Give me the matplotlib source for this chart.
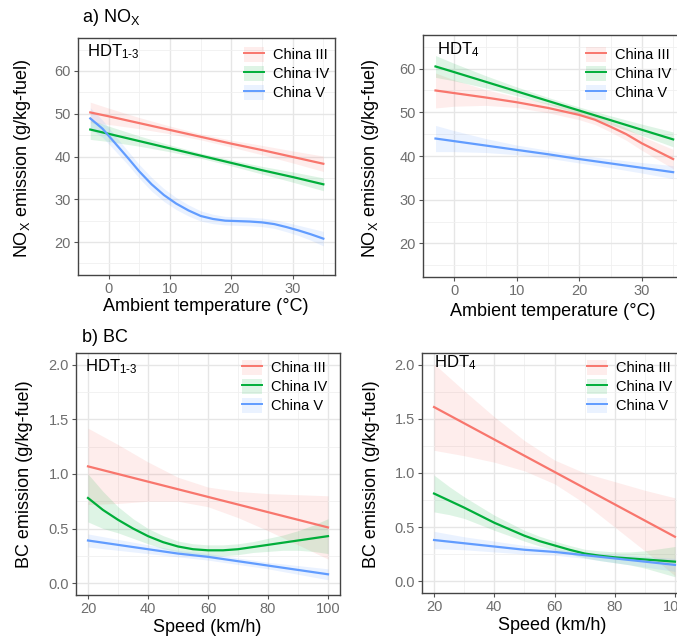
import matplotlib
matplotlib.use("Agg")
import matplotlib.pyplot as plt
from matplotlib.lines import Line2D
from matplotlib.patches import Patch

plt.rcParams["font.family"] = ["Liberation Sans", "DejaVu Sans"]
plt.rcParams["mathtext.fontset"] = "custom"
plt.rcParams["mathtext.rm"] = "Liberation Sans"
plt.rcParams["mathtext.it"] = "Liberation Sans"

# ── 数据: 从图中读取 ──
stages = ["China III", "China IV", "China V"]
colors = ["#F8766D", "#00AE3A", "#619CFF"]

# a) NOx vs 温度
temp_x = [-3, 0, 5, 10, 15, 20, 25, 30, 35]
temp_x_fine = [-3, -1, 1, 3, 5, 7, 9, 11, 13, 15, 17, 19, 21, 23, 25, 27, 29, 31, 33, 35]
temp_x_mid = [-3, 0, 5, 10, 15, 20, 22.5, 25, 27.5, 30, 32.5, 35]

nox13_c3 = [50.3, 49.4, 47.8, 46.2, 44.6, 43.0, 41.5, 39.9, 38.3]
nox13_c3_hw = [2.4, 1.9, 1.3, 0.9, 0.7, 0.8, 1.1, 1.4, 1.8]
nox13_c4 = [46.3, 45.3, 43.6, 41.9, 40.2, 38.5, 36.8, 35.2, 33.5]
nox13_c4_hw = [2.3, 1.8, 1.2, 0.8, 0.6, 0.7, 0.9, 1.2, 1.5]
nox13_c5 = [48.9, 46.5, 43.2, 39.9, 36.5, 33.5, 31.0, 29.0, 27.4, 26.1,
            25.4, 25.0, 24.9, 24.8, 24.6, 24.2, 23.5, 22.7, 21.8, 20.8]
nox13_c5_hw = [2.5, 2.0, 1.8, 1.6, 1.6, 1.6, 1.5, 1.4, 1.3, 1.2,
               1.1, 1.0, 1.0, 1.0, 1.0, 1.0, 1.1, 1.2, 1.4, 1.7]

nox4_c3 = [55.0, 54.4, 53.4, 52.3, 51.0, 49.4, 48.3, 46.7, 45.0, 42.9, 41.1, 39.3]
nox4_c3_hw = [4.0, 3.0, 1.8, 1.2, 1.1, 1.1, 1.1, 1.2, 1.4, 1.6, 1.9, 2.2]
nox4_c4 = [60.5, 59.2, 57.0, 54.8, 52.6, 50.4, 48.2, 46.0, 43.8]
nox4_c4_hw = [2.5, 2.0, 1.4, 1.0, 0.8, 0.8, 1.0, 1.3, 1.7]
nox4_c5 = [44.0, 43.4, 42.4, 41.4, 40.4, 39.3, 38.3, 37.3, 36.3]
nox4_c5_hw = [3.0, 2.4, 1.6, 1.1, 0.9, 0.9, 1.0, 1.2, 1.5]

# b) BC vs 速度
speed_x = [20, 30, 40, 50, 60, 70, 80, 90, 100]
speed_x_fine = [20, 25, 30, 35, 40, 45, 50, 55, 60, 65, 70, 75, 80, 85, 90, 95, 100]

bc13_c3 = [1.07, 1.00, 0.93, 0.86, 0.79, 0.72, 0.65, 0.58, 0.51]
bc13_c3_hw = [0.35, 0.27, 0.18, 0.11, 0.09, 0.12, 0.17, 0.23, 0.29]
bc13_c4 = [0.78, 0.67, 0.58, 0.50, 0.43, 0.375, 0.335, 0.31, 0.30,
           0.30, 0.31, 0.33, 0.35, 0.37, 0.39, 0.41, 0.43]
bc13_c4_hw = [0.22, 0.17, 0.12, 0.09, 0.07, 0.06, 0.05, 0.05, 0.05,
              0.05, 0.05, 0.05, 0.06, 0.07, 0.09, 0.12, 0.16]
bc13_c5 = [0.39, 0.35, 0.31, 0.27, 0.24, 0.20, 0.16, 0.12, 0.08]
bc13_c5_hw = [0.06, 0.05, 0.04, 0.03, 0.03, 0.03, 0.03, 0.04, 0.05]

bc4_c3 = [1.61, 1.46, 1.31, 1.16, 1.01, 0.86, 0.71, 0.56, 0.41]
bc4_c3_hw = [0.40, 0.30, 0.21, 0.14, 0.11, 0.14, 0.21, 0.28, 0.36]
bc4_c4 = [0.81, 0.745, 0.68, 0.61, 0.54, 0.48, 0.42, 0.37, 0.33,
          0.29, 0.255, 0.235, 0.22, 0.21, 0.20, 0.19, 0.18]
bc4_c4_hw = [0.17, 0.13, 0.10, 0.085, 0.07, 0.06, 0.05, 0.045, 0.04,
             0.04, 0.04, 0.045, 0.05, 0.06, 0.08, 0.11, 0.14]
bc4_c5 = [0.38, 0.35, 0.32, 0.29, 0.27, 0.24, 0.21, 0.18, 0.15]
bc4_c5_hw = [0.08, 0.06, 0.05, 0.04, 0.03, 0.03, 0.04, 0.05, 0.06]

W, H = 677, 636
fig = plt.figure(figsize=(W / 100, H / 100), dpi=100)


def px_axes(left, top, width, height):
    return fig.add_axes([left / W, 1 - (top + height) / H, width / W, height / H])


def style_axes(ax, xlim, ylim, xmaj, xmin, ymaj, ymin, yfmt):
    ax.set_xlim(*xlim)
    ax.set_ylim(*ylim)
    ax.set_xticks(xmaj)
    ax.set_xticks(xmin, minor=True)
    ax.set_yticks(ymaj)
    ax.set_yticks(ymin, minor=True)
    ax.set_yticklabels([yfmt.format(v) for v in ymaj])
    ax.grid(True, which="major", color="#E6E6E6", linewidth=1.0)
    ax.grid(True, which="minor", color="#F0F0F0", linewidth=0.6)
    ax.set_axisbelow(True)
    ax.tick_params(which="major", length=3, width=0.8, color="#555555",
                   labelcolor="#6E6E6E", labelsize=10.5, pad=2)
    ax.tick_params(which="minor", length=0)
    for sp in ax.spines.values():
        sp.set_color("#444444")
        sp.set_linewidth(1.0)


def draw_series(ax, xs_list, ys_list, hw_list):
    for xs, ys, hw, c in zip(xs_list, ys_list, hw_list, colors):
        lo = [y - h for y, h in zip(ys, hw)]
        hi = [y + h for y, h in zip(ys, hw)]
        ax.fill_between(xs, lo, hi, color=c, alpha=0.13, linewidth=0)
    for xs, ys, c in zip(xs_list, ys_list, colors):
        ax.plot(xs, ys, color=c, linewidth=1.6, solid_joinstyle="round")


def add_legend(ax, fx, fy):
    handles = [(Patch(facecolor=c, alpha=0.13, edgecolor="none"),
                Line2D([], [], color=c, linewidth=1.4)) for c in colors]
    ax.legend(handles, stages, loc="upper left", bbox_to_anchor=(fx / W, 1 - fy / H),
              bbox_transform=fig.transFigure, frameon=False, fontsize=10.5,
              handlelength=1.4, handleheight=1.2, handletextpad=0.6,
              labelspacing=0.25, borderpad=0, borderaxespad=0)


temp_lim = (-4.9, 36.9)
nox_lim = (12.3, 67.7)
speed_lim = (16, 104)
bc_lim = (-0.11, 2.11)

# ── 面板 ──
ax1 = px_axes(78, 38, 257, 237)
ax2 = px_axes(423, 35, 262, 242)
ax3 = px_axes(76, 353, 264, 242)
ax4 = px_axes(422, 353, 265, 240)

for ax in (ax1, ax2):
    style_axes(ax, temp_lim, nox_lim, [0, 10, 20, 30], [-5, 5, 15, 25, 35],
               [20, 30, 40, 50, 60], [15, 25, 35, 45, 55, 65], "{:.0f}")
for ax in (ax3, ax4):
    style_axes(ax, speed_lim, bc_lim, [20, 40, 60, 80, 100], [30, 50, 70, 90],
               [0, 0.5, 1.0, 1.5, 2.0], [0.25, 0.75, 1.25, 1.75], "{:.1f}")

draw_series(ax1, [temp_x, temp_x, temp_x_fine], [nox13_c3, nox13_c4, nox13_c5],
            [nox13_c3_hw, nox13_c4_hw, nox13_c5_hw])
draw_series(ax2, [temp_x_mid, temp_x, temp_x], [nox4_c3, nox4_c4, nox4_c5],
            [nox4_c3_hw, nox4_c4_hw, nox4_c5_hw])
draw_series(ax3, [speed_x, speed_x_fine, speed_x], [bc13_c3, bc13_c4, bc13_c5],
            [bc13_c3_hw, bc13_c4_hw, bc13_c5_hw])
draw_series(ax4, [speed_x, speed_x_fine, speed_x], [bc4_c3, bc4_c4, bc4_c5],
            [bc4_c3_hw, bc4_c4_hw, bc4_c5_hw])

add_legend(ax1, 244, 47)
add_legend(ax2, 586, 47)
add_legend(ax3, 242, 360)
add_legend(ax4, 587, 360)

# 面板内标签
sub13 = r"HDT$_{\mathregular{1\text{-}3}}$"
sub4 = r"HDT$_{\mathregular{4}}$"
fig.text(87 / W, 1 - 52 / H, sub13, fontsize=12, va="center", ha="left")
fig.text(437 / W, 1 - 50 / H, sub4, fontsize=12, va="center", ha="left")
fig.text(85 / W, 1 - 367 / H, sub13, fontsize=12, va="center", ha="left")
fig.text(434 / W, 1 - 363 / H, sub4, fontsize=12, va="center", ha="left")

# 轴标题
nox_label = r"NO$_{\mathregular{X}}$ emission (g/kg-fuel)"
bc_label = "BC emission (g/kg-fuel)"
for ax, lab, fx, fy in [(ax1, nox_label, 33, 158), (ax2, nox_label, 381, 158),
                        (ax3, bc_label, 33, 474), (ax4, bc_label, 380, 474)]:
    ax.set_ylabel(lab, fontsize=13)
    ax.yaxis.set_label_coords(fx / W, 1 - fy / H, transform=fig.transFigure)

for ax, lab, fx, fy in [(ax1, "Ambient temperature (°C)", 206, 307),
                        (ax2, "Ambient temperature (°C)", 553, 312),
                        (ax3, "Speed (km/h)", 207, 628),
                        (ax4, "Speed (km/h)", 552, 625)]:
    ax.set_xlabel(lab, fontsize=13)
    ax.xaxis.set_label_coords(fx / W, 1 - fy / H, transform=fig.transFigure)
    ax.xaxis.label.set_va("center")

fig.text(82 / W, 1 - 18 / H, r"a) NO$_{\mathregular{X}}$", fontsize=13, va="center", ha="left")
fig.text(82 / W, 1 - 337 / H, "b) BC", fontsize=13, va="center", ha="left")

fig.savefig("out.png", dpi=100)
